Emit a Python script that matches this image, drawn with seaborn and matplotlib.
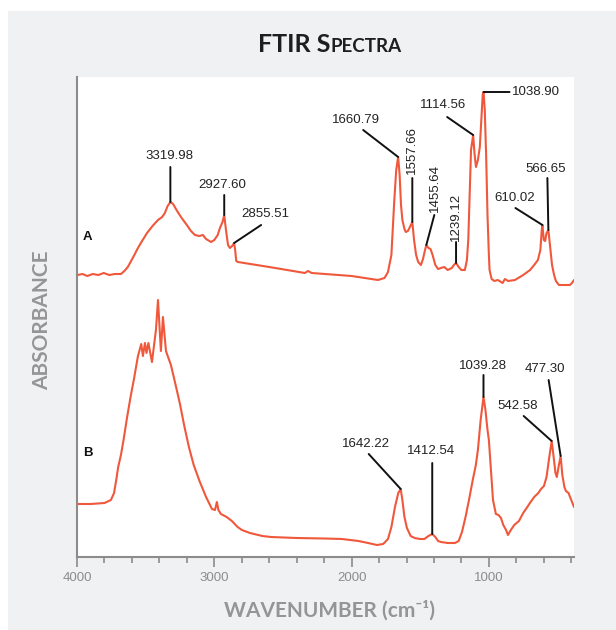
import numpy as np
import pandas as pd
import matplotlib
matplotlib.use("Agg")
import matplotlib.pyplot as plt
import seaborn as sns
from matplotlib.offsetbox import TextArea, HPacker, AnchoredOffsetbox
from matplotlib.patches import Rectangle
from matplotlib.ticker import MultipleLocator

sns.set_theme(style="white")
plt.rcParams['font.family'] = ['Liberation Sans', 'DejaVu Sans']

# spectrum A (offset above B), wavenumber in cm-1, absorbance in a.u.
wn_a = [3995, 3960, 3925, 3885, 3845, 3805, 3765, 3725, 3680, 3655, 3630, 3590,
        3560, 3535, 3490, 3450, 3410, 3380, 3360, 3340, 3319.98, 3300, 3275, 3243,
        3200, 3170, 3141, 3110, 3083, 3060, 3024, 3000, 2975, 2959, 2940, 2927.60,
        2915, 2900, 2886, 2870, 2855.51, 2848, 2840, 2828, 2600, 2340, 2318, 2290,
        2000, 1808, 1760, 1735, 1710, 1690, 1675, 1660.79, 1650, 1640, 1630, 1615,
        1605, 1590, 1575, 1557.66, 1545, 1530, 1515, 1495, 1480, 1465, 1455.64,
        1440, 1425, 1410, 1390, 1370, 1350, 1325, 1300, 1270, 1255, 1239.12, 1220,
        1200, 1175, 1160, 1150, 1140, 1130, 1114.56, 1105, 1094, 1080, 1066, 1055,
        1045, 1038.90, 1030, 1020, 1010, 1000, 995, 980, 960, 935, 900, 883, 860,
        810, 750, 700, 670, 643, 625, 615, 610.02, 600, 590, 580, 566.65, 555, 540,
        525, 512, 490, 475, 410, 395, 380]
abs_a = [2.80, 2.81, 2.79, 2.81, 2.80, 2.82, 2.80, 2.81, 2.81, 2.84, 2.88, 2.98,
         3.06, 3.12, 3.22, 3.29, 3.35, 3.38, 3.42, 3.49, 3.53, 3.51, 3.45, 3.38,
         3.30, 3.24, 3.20, 3.19, 3.20, 3.16, 3.13, 3.15, 3.20, 3.27, 3.33, 3.40,
         3.25, 3.10, 3.07, 3.09, 3.12, 3.05, 2.94, 2.93, 2.88, 2.82, 2.84, 2.82,
         2.79, 2.75, 2.77, 2.83, 3.00, 3.52, 3.85, 3.98, 3.80, 3.50, 3.35, 3.26,
         3.23, 3.24, 3.28, 3.33, 3.15, 3.00, 2.93, 2.90, 2.96, 3.05, 3.10,
         3.07, 3.06, 3.00, 2.90, 2.86, 2.87, 2.88, 2.85, 2.87, 2.90, 2.92, 2.88,
         2.85, 2.85, 2.95, 3.15, 3.60, 4.05, 4.20, 4.02, 3.88, 3.95, 4.08, 4.35,
         4.60, 4.63, 4.45, 4.00, 3.40, 3.00, 2.85, 2.76, 2.74, 2.75, 2.72, 2.76, 2.74,
         2.75, 2.80, 2.85, 2.90, 2.95, 3.05, 3.25, 3.30, 3.15, 3.14, 3.22, 3.25, 3.10,
         2.90, 2.80, 2.74, 2.70, 2.70, 2.70, 2.72, 2.75]

# spectrum B
wn_b = [3995, 3900, 3800, 3753, 3730, 3713, 3700, 3680, 3661, 3636, 3610, 3585,
        3556, 3532, 3520, 3505, 3494, 3480, 3454, 3425, 3410, 3389, 3374, 3352,
        3316, 3290, 3250, 3220, 3185, 3150, 3105, 3060, 3017, 2995, 2981, 2970,
        2952, 2910, 2872, 2830, 2799, 2740, 2650, 2587, 2400, 2200, 2070, 1950,
        1880, 1815, 1770, 1735, 1710, 1684, 1660, 1642.22, 1630, 1615, 1597, 1570,
        1540, 1502, 1470, 1440, 1412.54, 1390, 1370, 1349, 1300, 1247, 1220, 1196,
        1170, 1145, 1116, 1095, 1080, 1060, 1039.28, 1025, 1010, 1000, 985, 970,
        949, 930, 912, 895, 875, 861, 840, 815, 781, 750, 720, 701, 670, 640, 620,
        599, 580, 560, 542.58, 530, 515, 505, 490, 477.30, 465, 450, 439, 420, 400,
        380]
abs_b = [0.51, 0.51, 0.52, 0.55, 0.62, 0.76, 0.88, 1.00, 1.15, 1.37, 1.58, 1.76,
         1.99, 2.11, 1.99, 2.12, 2.02, 2.12, 1.93, 2.25, 2.55, 2.04, 2.38, 2.04,
         1.90, 1.75, 1.51, 1.30, 1.08, 0.90, 0.73, 0.58, 0.46, 0.45, 0.53, 0.45,
         0.41, 0.38, 0.34, 0.28, 0.25, 0.22, 0.19, 0.18, 0.17, 0.165, 0.16, 0.14,
         0.12, 0.10, 0.11, 0.16, 0.28, 0.48, 0.62, 0.66, 0.55, 0.38, 0.27, 0.19,
         0.17, 0.16, 0.16, 0.19, 0.21, 0.18, 0.14, 0.13, 0.12, 0.12, 0.14, 0.23,
         0.38, 0.55, 0.76, 0.90, 1.05, 1.35, 1.58, 1.45, 1.25, 1.15, 0.85, 0.55,
         0.41, 0.40, 0.37, 0.30, 0.25, 0.20, 0.25, 0.30, 0.34, 0.42, 0.48, 0.52,
         0.58, 0.62, 0.66, 0.69, 0.78, 0.98, 1.14, 1.00, 0.82, 0.78, 0.90, 0.99,
         0.80, 0.68, 0.64, 0.62, 0.55, 0.48]

peaks_a = [3319.98, 2927.60, 2855.51, 1660.79, 1557.66, 1455.64, 1239.12,
           1114.56, 1038.90, 610.02, 566.65]
peaks_b = [1642.22, 1412.54, 1039.28, 542.58, 477.30]

# label placement (pixels from the peak): text offset, line start, rotation, alignment
layout_a = [((-1, 46), (0, 35), 0, 'center'),
            ((-2, 30), (0, 20), 0, 'center'),
            ((31, 29), (27, 18), 0, 'center'),
            ((-42, 37), (-35, 27), 0, 'center'),
            ((0, 72), (0, 44), 90, 'center'),
            ((9, 57), (8, 30), 90, 'center'),
            ((0, 46), (0, 21), 90, 'center'),
            ((-30, 30), (-26, 18), 0, 'center'),
            ((28, 0), (26, 0), 0, 'left'),
            ((-28, 27), (-27, 17), 0, 'center'),
            ((-3, 61), (-1, 52), 0, 'center')]
layout_b = [((-35, 45), (-32, 35), 0, 'center'),
            ((-1, 83), (0, 71), 0, 'center'),
            ((-1, 31), (0, 22), 0, 'center'),
            ((-34, 35), (-28, 25), 0, 'center'),
            ((-16, 87), (-12, 76), 0, 'center')]

line_color = '#f0583c'
grey = '#8c8c8c'

fig = plt.figure(figsize=(6.16, 6.30), dpi=100, facecolor='white')
fig.patches.append(Rectangle((8 / 616, 0), 1, 1 - 11 / 630, transform=fig.transFigure,
                             facecolor='#f0f1f3', edgecolor='none', zorder=-10))
ax = fig.add_axes([77 / 616, (630 - 557) / 630, (574 - 77) / 616, (557 - 77) / 630])
ax.set_facecolor('white')

df = pd.concat([
    pd.DataFrame({'wavenumber': wn_a, 'absorbance': abs_a, 'sample': 'A'}),
    pd.DataFrame({'wavenumber': wn_b, 'absorbance': abs_b, 'sample': 'B'}),
])
sns.lineplot(data=df, x='wavenumber', y='absorbance', units='sample', estimator=None,
             color=line_color, linewidth=1.5, ax=ax)


def mark_peak(ax, wn, ab, wn_peak, text_off, line_off, rot, ha):
    y = np.interp(wn_peak, wn[::-1], ab[::-1])
    ax.annotate('', xy=(wn_peak, y), xytext=line_off, textcoords='offset pixels',
                arrowprops=dict(arrowstyle='-', color='#111111', lw=1.4,
                                shrinkA=0, shrinkB=0))
    ax.annotate(f'{wn_peak:.2f}', xy=(wn_peak, y), xytext=text_off,
                textcoords='offset pixels', ha=ha, va='center', rotation=rot,
                fontsize=9.5, color='#222222')


for p, (t, l, r, h) in zip(peaks_a, layout_a):
    mark_peak(ax, np.array(wn_a), np.array(abs_a), p, t, l, r, h)
for p, (t, l, r, h) in zip(peaks_b, layout_b):
    mark_peak(ax, np.array(wn_b), np.array(abs_b), p, t, l, r, h)

ax.text(0.022, 0.667, 'A', transform=ax.transAxes, ha='center', va='center',
        fontsize=9.5, fontweight='bold', color='#111111')
ax.text(0.022, 0.217, 'B', transform=ax.transAxes, ha='center', va='center',
        fontsize=9.5, fontweight='bold', color='#111111')

ax.set_xlim(4000, 380)
ax.set_ylim(-0.02, 4.78)
ax.xaxis.set_major_locator(MultipleLocator(1000))
ax.xaxis.set_minor_locator(MultipleLocator(200))
ax.tick_params(axis='x', which='major', direction='out', length=7, width=1.2,
               color=grey, labelsize=9.5, labelcolor=grey, pad=4, bottom=True)
ax.tick_params(axis='x', which='minor', direction='out', length=4, width=1.2,
               color=grey, bottom=True)
ax.tick_params(axis='y', left=False, labelleft=False)
ax.set_xlabel('')
ax.set_ylabel('')
for s in ['top', 'right']:
    ax.spines[s].set_visible(False)
for s in ['left', 'bottom']:
    ax.spines[s].set_color(grey)
    ax.spines[s].set_linewidth(1.5)

fig.text(330 / 616, 1 - 610 / 630, 'WAVENUMBER (cm⁻¹)', ha='center', va='center',
         fontsize=15, fontweight='bold', color='#959595', family=['Lato', 'DejaVu Sans'])
fig.text(42 / 616, 1 - 320 / 630, 'ABSORBANCE', ha='center', va='center', rotation=90,
         fontsize=15, fontweight='bold', color='#959595', family=['Lato', 'DejaVu Sans'])

big = TextArea('FTIR S', textprops=dict(fontsize=18, fontweight='bold', color='#1e1e1e',
                                         family='Lato'))
small = TextArea('PECTRA', textprops=dict(fontsize=13.5, fontweight='bold', color='#1e1e1e',
                                           family='Lato'))
title = HPacker(children=[big, small], align='baseline', pad=0, sep=0)
fig.add_artist(AnchoredOffsetbox(loc='center', child=title, frameon=False, pad=0,
                                 bbox_to_anchor=(330 / 616, 1 - 44 / 630),
                                 bbox_transform=fig.transFigure, borderpad=0))

fig.savefig('out.png', dpi=100, facecolor=fig.get_facecolor())
